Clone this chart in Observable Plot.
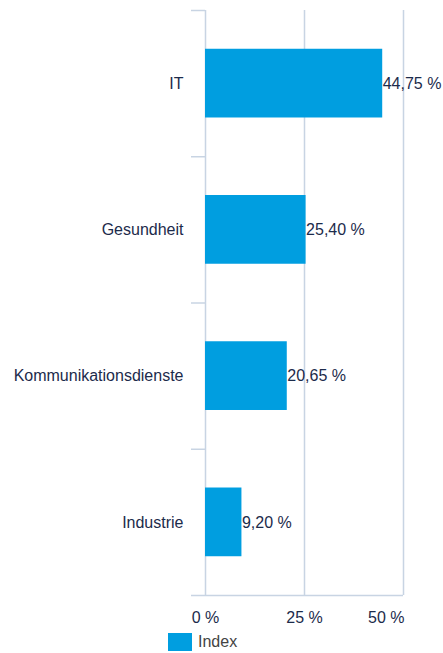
<!DOCTYPE html>
<html><head><meta charset="utf-8">
<script src="https://cdn.jsdelivr.net/npm/d3@7"></script>
<script src="https://cdn.jsdelivr.net/npm/@observablehq/plot@0.6"></script>
<style>
body{margin:0;background:#fff;font-family:"Liberation Sans",Arial,Helvetica,sans-serif;}
#legend{display:flex;align-items:center;margin-left:168px;margin-top:3px;font-size:16px;color:#444;}
#legend .sw{width:24px;height:18px;background:#009ee0;margin-right:6px;}
</style></head><body><div id="chart"></div><div id="legend"></div>
<script>
const categories = ["IT", "Gesundheit", "Kommunikationsdienste", "Industrie"];
const values = [44.75, 25.40, 20.65, 9.20];
const xTicks = [0, 25, 50];
const seriesName = "Index";

const data = categories.map((c, i) => ({category: c, index: i, value: values[i]}));
const n = categories.length;
const W = 443, H = 630, mL = 205, mR = 40, mT = 10, mB = 35;
const xMax = 50;
const barFrac = 0.47, tickLen = 14;
const kx = (W - mL - mR) / xMax;
const tickStart = -tickLen / kx;
const navy = "#1c2b4b", grid = "#c8d4e3", blue = "#009ee0";
const fs = 16;
const fmt = v => v.toFixed(2).replace(".", ",") + " %";

const chart = Plot.plot({
  width: W, height: H,
  marginLeft: mL, marginRight: mR, marginTop: mT, marginBottom: mB,
  style: {fontFamily: '"Liberation Sans", Arial, sans-serif', fontSize: fs + "px", background: "#fff"},
  x: {domain: [0, xMax]},
  y: {domain: [0, n], reverse: true},
  marks: [
    Plot.ruleX(xTicks, {stroke: grid, strokeWidth: 1.5}),
    Plot.rect(data, {x1: 0, x2: "value", y1: d => d.index + 0.5 - barFrac / 2, y2: d => d.index + 0.5 + barFrac / 2, fill: blue}),
    Plot.ruleY(d3.range(n), {x1: tickStart, x2: 0, stroke: grid, strokeWidth: 1.5}),
    Plot.ruleY([n], {x1: tickStart, x2: xMax, stroke: grid, strokeWidth: 1.5}),
    Plot.text(data, {x: "value", y: d => d.index + 0.5, text: d => fmt(d.value), textAnchor: "start", dx: 0, fontSize: fs, fill: navy}),
    Plot.axisY(d3.range(n).map(i => i + 0.5), {tickSize: 0, tickPadding: 22, tickFormat: d => categories[Math.floor(d)], fontSize: fs, fill: navy, label: null}),
    Plot.axisX(xTicks.slice(0, -1), {tickSize: 0, tickPadding: 16, tickFormat: d => d + " %", fontSize: fs, fill: navy, label: null}),
    Plot.axisX(xTicks.slice(-1), {tickSize: 0, tickPadding: 16, tickFormat: d => d + " %", fontSize: fs, fill: navy, label: null, textAnchor: "end", dx: 1})
  ]
});
document.getElementById("chart").appendChild(chart);
const lg = document.getElementById("legend");
lg.innerHTML = `<span class="sw"></span><span>${seriesName}</span>`;
</script></body></html>
